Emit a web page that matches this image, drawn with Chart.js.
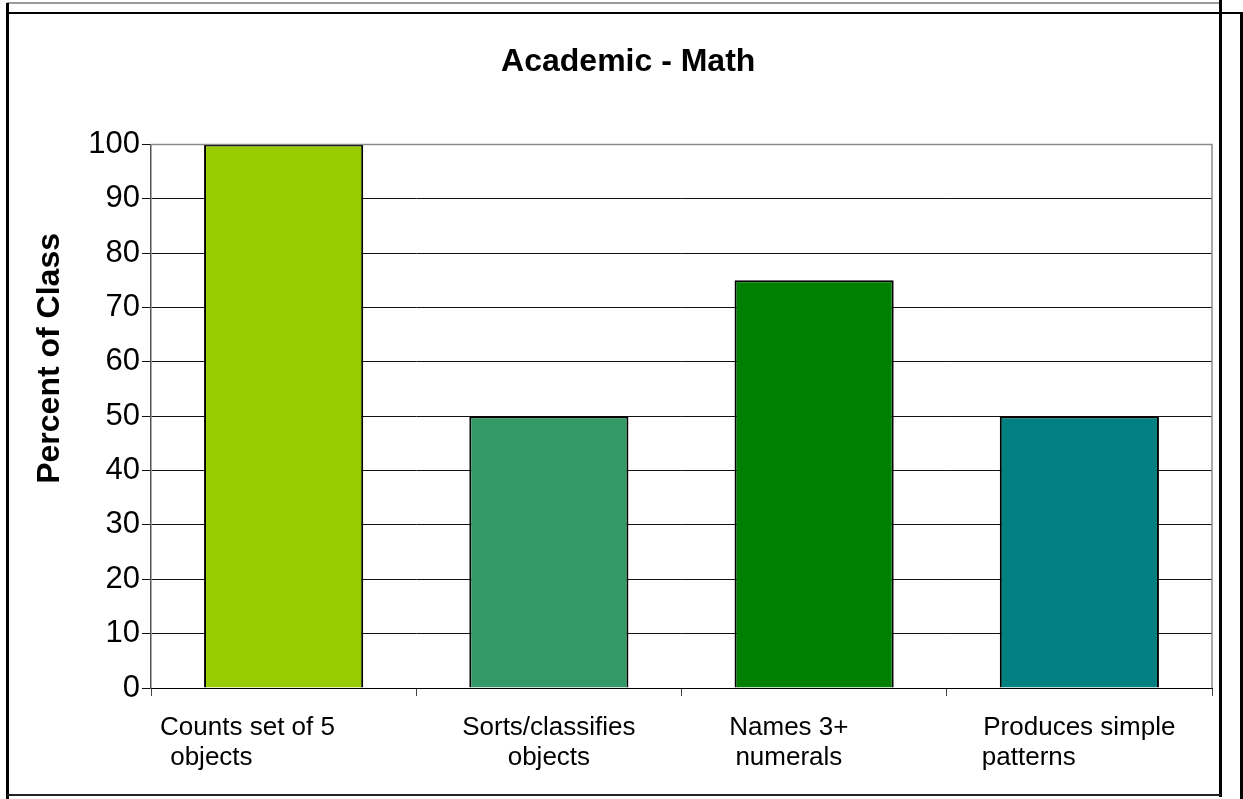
<!DOCTYPE html>
<html lang="en">
<head>
  <meta charset="UTF-8">
  <title>Academic - Math</title>
  <script src="https://cdn.jsdelivr.net/npm/chart.js"></script>
  <style>
    body {
      margin: 0;
      background: #ffffff;
      overflow: hidden;
    }

    #chart-container {
      position: absolute;
      left: 0;
      top: 0;
      width: 1243px;
      height: 799px;
    }

    .frame {
      position: absolute;
      background: #000;
    }
  </style>
</head>
<body>

  <div id="chart-container">
    <canvas id="mathChart" width="1243" height="799"></canvas>
  </div>

  <!-- the odd doubled border round the original picture -->
  <div class="frame" style="left:7px;top:2px;width:1214px;height:2px;background:#9a9a9a"></div>
  <div class="frame" style="left:7px;top:12px;width:1236px;height:2px"></div>
  <div class="frame" style="left:6px;top:3px;width:3px;height:796px"></div>
  <div class="frame" style="left:1219px;top:0px;width:3px;height:797px"></div>
  <div class="frame" style="left:1240px;top:12px;width:3px;height:787px"></div>
  <div class="frame" style="left:7px;top:794px;width:1214px;height:2px;background:#222"></div>

<script>
  // data
  const skillLabels = [
    ["Counts set of 5          ", " objects                     "],
    ["Sorts/classifies", "objects"],
    ["Names 3+       ", "numerals       "],
    ["Produces simple", "patterns              "]
  ];
  const percentValues = [100, 50, 75, 50];
  const barColors = ['#99CC00', '#339966', '#008000', '#008080'];
  const yTicks = [0, 10, 20, 30, 40, 50, 60, 70, 80, 90, 100];

  const fontFamily = "'Liberation Sans', Arial, sans-serif";

  // grey box round the plot area
  const plotBorder = {
    id: 'plotBorder',
    afterDraw(chart) {
      const a = chart.chartArea;
      const ctx = chart.ctx;
      ctx.save();
      ctx.strokeStyle = '#8c8c8c';
      ctx.lineWidth = 1.5;
      ctx.beginPath();
      ctx.moveTo(a.left, a.top);
      ctx.lineTo(a.right, a.top);
      ctx.lineTo(a.right, a.bottom);
      ctx.stroke();
      ctx.restore();
    }
  };

  const ctx = document.getElementById("mathChart").getContext("2d");
  new Chart(ctx, {
    type: 'bar',
    data: {
      labels: skillLabels,
      datasets: [{
        data: percentValues,
        backgroundColor: barColors,
        borderColor: '#000000',
        borderWidth: 2,
        barPercentage: 0.6,
        categoryPercentage: 1.0
      }]
    },
    options: {
      responsive: false,
      animation: false,
      layout: {
        padding: { left: 0, right: 31, top: 0, bottom: 0 }
      },
      plugins: {
        legend: { display: false },
        tooltip: { enabled: false },
        title: {
          display: true,
          text: '     Academic - Math',
          color: '#000',
          font: { family: fontFamily, size: 32, weight: 'bold' },
          padding: { top: 43, bottom: 63 }
        }
      },
      scales: {
        x: {
          offset: true,
          grid: {
            offset: true,
            drawOnChartArea: false,
            drawTicks: true,
            tickLength: 8,
            color: '#444'
          },
          border: { display: true, color: '#000', width: 1 },
          ticks: {
            color: '#000',
            maxRotation: 0,
            autoSkip: false,
            padding: 17,
            font: { family: fontFamily, size: 26, lineHeight: 1.15 }
          },
          afterFit(scale) {
            scale.height = 111;
          }
        },
        y: {
          min: 0,
          max: 100,
          afterBuildTicks(scale) {
            scale.ticks = yTicks.map(v => ({ value: v }));
          },
          grid: {
            color: '#111',
            lineWidth: 1,
            drawTicks: true,
            tickLength: 9
          },
          border: { display: true, color: '#555', width: 1.5 },
          ticks: {
            color: '#000',
            padding: 2,
            font: { family: fontFamily, size: 31 }
          },
          title: {
            display: true,
            text: '             Percent of Class',
            color: '#000',
            font: { family: fontFamily, size: 32, weight: 'bold' },
            padding: { top: 31, bottom: 0 }
          },
          afterFit(scale) {
            scale.width = 151;
          }
        }
      }
    },
    plugins: [plotBorder, {
      id: 'whiteBg',
      beforeDraw(chart) {
        const c = chart.ctx;
        c.save();
        c.fillStyle = '#ffffff';
        c.fillRect(0, 0, chart.width, chart.height);
        c.restore();
      }
    }]
  });
</script>
</body>
</html>
